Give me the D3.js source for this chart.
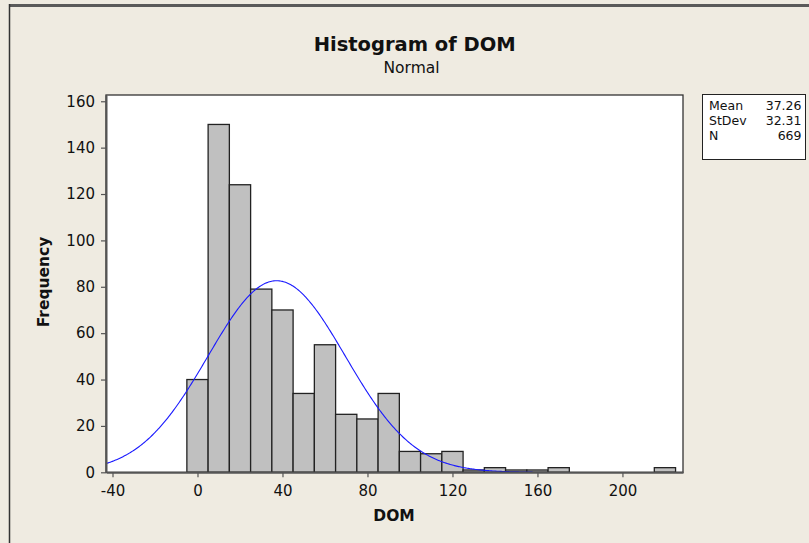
<!DOCTYPE html>
<html><head><meta charset="utf-8">
<script src="https://cdn.jsdelivr.net/npm/d3@7"></script>
<style>body{margin:0;background:#efebe1}svg{display:block}text{font-family:"DejaVu Sans",sans-serif}</style>
</head><body><svg id="c" width="809" height="543"></svg>
<script>
// ---- data ----
const binCenters = [0,10,20,30,40,50,60,70,80,90,100,110,120,130,140,150,160,170,180,190,200,210,220];
const frequencies = [40,150,124,79,70,34,55,25,23,34,9,8,9,1,2,1,1,2,0,0,0,0,2];
const xTicks = [-40,0,40,80,120,160,200];
const yTicks = [0,20,40,60,80,100,120,140,160];
const statLabels = ["Mean","StDev","N"];
const statValues = ["37.26","32.31","669"];
const fitMean = 37.26, fitSd = 32.31, fitN = 669;
const binWidth = 10;
const xDomain = [-43.06, 228.5];
const yDomain = [0, 162.7];
const curveEnd = 157.7;

// ---- drawing ----
const svg = d3.select("#c");
svg.append("rect").attr("width",809).attr("height",543).attr("fill","#efebe1");
svg.append("line").attr("x1",9).attr("x2",809).attr("y1",5.5).attr("y2",5.5).attr("stroke","#5a5a5a").attr("stroke-width",3);
svg.append("line").attr("x1",9.5).attr("x2",9.5).attr("y1",4).attr("y2",543).attr("stroke","#333").attr("stroke-width",1.5);

const L=106, R=683, T=95, B=472.3;
const x = d3.scaleLinear().domain(xDomain).range([L,R]);
const y = d3.scaleLinear().domain(yDomain).range([B,T]);

svg.append("rect").attr("x",L).attr("y",T).attr("width",R-L).attr("height",B-T).attr("fill","#fff");

const bins = binCenters.map((c,i)=>({c, f:frequencies[i]})).filter(d=>d.f>0);
svg.append("g").selectAll("rect").data(bins).join("rect")
  .attr("x",d=>x(d.c-binWidth/2)).attr("width",d=>x(d.c+binWidth/2)-x(d.c-binWidth/2))
  .attr("y",d=>y(d.f)).attr("height",d=>y(0)-y(d.f))
  .attr("fill","#c0c0c0").attr("stroke","#222").attr("stroke-width",1.3);

// fitted normal curve from stats
const pdf = v => fitN*binWidth*Math.exp(-0.5*((v-fitMean)/fitSd)**2)/(fitSd*Math.sqrt(2*Math.PI));
const xs = d3.range(xDomain[0], curveEnd, 0.5).concat([curveEnd]);
svg.append("path").datum(xs).attr("fill","none").attr("stroke","#1a1aff").attr("stroke-width",1.1)
  .attr("d", d3.line().x(v=>x(v)).y(v=>y(pdf(v))));

// frame
svg.append("rect").attr("x",L).attr("y",T).attr("width",R-L).attr("height",B-T).attr("fill","none").attr("stroke","#333").attr("stroke-width",1.3);

const fmt = d => String(d);
const ax = svg.append("g").attr("transform",`translate(0,${B})`)
  .call(d3.axisBottom(x).tickValues(xTicks).tickFormat(fmt).tickSize(5).tickPadding(8).tickSizeOuter(0));
const ay = svg.append("g").attr("transform",`translate(${L},0)`)
  .call(d3.axisLeft(y).tickValues(yTicks).tickFormat(fmt).tickSize(5).tickPadding(6).tickSizeOuter(0));
[ax,ay].forEach(g=>{
  g.select(".domain").attr("stroke","#555").attr("stroke-width",2);
  g.selectAll(".tick line").attr("stroke","#555").attr("stroke-width",1.2);
  g.selectAll(".tick text").attr("fill","#111").style("font-size","15px").style("font-family","DejaVu Sans");
});

// titles
svg.append("text").attr("x",414.7).attr("y",51).attr("text-anchor","middle")
  .style("font-size","19.5px").style("font-weight","bold").attr("fill","#111").text("Histogram of DOM");
svg.append("text").attr("x",411.5).attr("y",73.3).attr("text-anchor","middle")
  .style("font-size","15.5px").attr("fill","#111").text("Normal");
svg.append("text").attr("transform","translate(48.5,282) rotate(-90)").attr("text-anchor","middle")
  .style("font-size","15.5px").style("font-weight","bold").attr("fill","#111").text("Frequency");
svg.append("text").attr("x",394).attr("y",520.7).attr("text-anchor","middle")
  .style("font-size","15.5px").style("font-weight","bold").attr("fill","#111").text("DOM");

// stats box
svg.append("rect").attr("x",702.5).attr("y",94.5).attr("width",103).attr("height",65).attr("fill","#fff").attr("stroke","#222").attr("stroke-width",1);
statLabels.forEach((s,i)=>{
  svg.append("text").attr("x",709).attr("y",110+15*i).style("font-size","12.5px").attr("fill","#111").text(s);
  svg.append("text").attr("x",801.5).attr("y",110+15*i).attr("text-anchor","end").style("font-size","12.5px").attr("fill","#111").text(statValues[i]);
});
</script></body></html>
